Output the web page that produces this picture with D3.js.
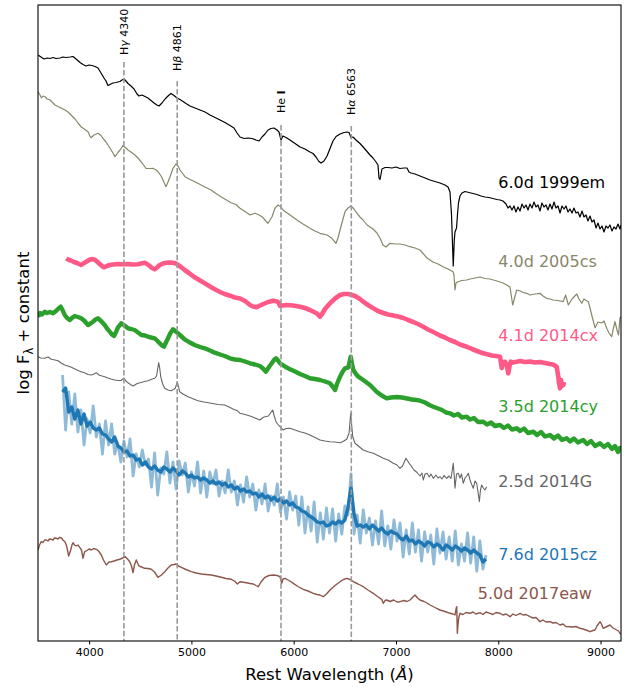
<!DOCTYPE html>
<html><head><meta charset="utf-8">
<script src="https://cdn.jsdelivr.net/npm/d3@7"></script>
<style>body{margin:0;background:#fff} svg{display:block} text{font-family:"DejaVu Sans",sans-serif}</style>
</head><body><svg id="c" width="627" height="687"></svg>
<script>
// ---------------- data (wavelength in Å, log F + constant) ----------------
const sn1999em = [[3500,5.86],[3529,5.84],[3559,5.82],[3588,5.83],[3617,5.825],[3647,5.835],[3676,5.825],[3715,5.83],[3744,5.84],[3774,5.835],[3813,5.84],[3842,5.845],[3872,5.82],[3911,5.785],[3940,5.765],[3969,5.75],[3999,5.76],[4028,5.755],[4057,5.745],[4087,5.73],[4116,5.68],[4145,5.63],[4165,5.60],[4184,5.555],[4204,5.565],[4233,5.58],[4263,5.585],[4302,5.595],[4321,5.61],[4341,5.62],[4360,5.60],[4380,5.575],[4409,5.55],[4439,5.52],[4468,5.47],[4487,5.45],[4517,5.46],[4546,5.445],[4575,5.43],[4605,5.405],[4634,5.38],[4663,5.36],[4683,5.35],[4712,5.38],[4742,5.42],[4771,5.45],[4800,5.475],[4830,5.455],[4859,5.43],[4888,5.415],[4918,5.395],[4947,5.375],[4986,5.35],[5035,5.33],[5084,5.31],[5133,5.29],[5182,5.26],[5231,5.235],[5280,5.21],[5328,5.185],[5377,5.155],[5416,5.13],[5446,5.08],[5475,5.04],[5514,5.025],[5553,5.03],[5592,5.025],[5631,5.01],[5661,5.00],[5690,5.04],[5719,5.07],[5749,5.11],[5778,5.125],[5807,5.13],[5837,5.11],[5856,5.09],[5876,5.01],[5895,5.05],[5925,5.035],[5964,5.01],[6013,4.975],[6062,4.94],[6110,4.92],[6159,4.89],[6189,4.875],[6218,4.84],[6247,4.795],[6267,4.78],[6296,4.80],[6326,4.85],[6355,4.925],[6384,5.00],[6414,5.045],[6453,5.07],[6492,5.085],[6521,5.09],[6541,5.085],[6560,5.035],[6580,5.04],[6609,5.01],[6648,4.975],[6688,4.93],[6717,4.895],[6746,4.86],[6775,4.83],[6805,4.79],[6824,4.76],[6834,4.63],[6844,4.615],[6863,4.72],[6893,4.735],[6922,4.735],[6961,4.73],[7000,4.74],[7039,4.725],[7078,4.73],[7108,4.73],[7127,4.69],[7147,4.68],[7186,4.67],[7235,4.65],[7284,4.63],[7333,4.61],[7381,4.595],[7430,4.58],[7479,4.56],[7509,4.54],[7528,4.49],[7543,4.26],[7553,3.96],[7560,3.75],[7570,4.01],[7577,4.09],[7592,4.13],[7601,4.26],[7611,4.38],[7626,4.45],[7645,4.48],[7675,4.495],[7714,4.485],[7753,4.475],[7792,4.465],[7831,4.45],[7870,4.44],[7909,4.435],[7948,4.425],[7987,4.415],[8017,4.41],[8046,4.40],[8076,4.37],[8095,4.33],[8115,4.35],[8134,4.31],[8154,4.35],[8173,4.29],[8193,4.34],[8213,4.30],[8232,4.37],[8252,4.33],[8271,4.36],[8291,4.31],[8310,4.37],[8330,4.33],[8349,4.39],[8369,4.34],[8388,4.36],[8408,4.30],[8427,4.38],[8447,4.34],[8467,4.36],[8486,4.31],[8506,4.37],[8525,4.32],[8545,4.39],[8564,4.33],[8584,4.35],[8604,4.28],[8623,4.35],[8643,4.32],[8662,4.35],[8682,4.29],[8701,4.32],[8721,4.28],[8740,4.33],[8760,4.28],[8779,4.29],[8799,4.24],[8819,4.30],[8838,4.24],[8858,4.26],[8877,4.20],[8897,4.25],[8916,4.19],[8936,4.21],[8956,4.13],[8975,4.18],[8995,4.12],[9014,4.15],[9034,4.09],[9053,4.15],[9073,4.13],[9092,4.16],[9112,4.10],[9131,4.14],[9151,4.12],[9171,4.17],[9190,4.12],[9200,4.16]];

const sn2005cs = [[3500,5.493],[3520,5.46],[3534,5.43],[3549,5.45],[3568,5.443],[3588,5.42],[3617,5.41],[3647,5.38],[3666,5.36],[3715,5.335],[3764,5.31],[3793,5.29],[3823,5.26],[3862,5.22],[3891,5.18],[3920,5.143],[3960,5.115],[3989,5.093],[4008,5.05],[4018,5.033],[4048,5.06],[4087,5.077],[4116,5.055],[4136,5.027],[4165,4.99],[4204,4.927],[4233,4.88],[4253,4.843],[4282,4.885],[4302,4.91],[4331,4.953],[4360,4.93],[4380,4.91],[4409,4.89],[4448,4.86],[4478,4.83],[4507,4.793],[4536,4.755],[4556,4.727],[4595,4.725],[4624,4.727],[4654,4.71],[4673,4.693],[4703,4.65],[4722,4.61],[4751,4.543],[4771,4.59],[4791,4.643],[4820,4.727],[4849,4.77],[4869,4.75],[4888,4.71],[4918,4.67],[4937,4.643],[4986,4.615],[5035,4.593],[5094,4.56],[5143,4.535],[5191,4.51],[5240,4.475],[5289,4.443],[5338,4.413],[5387,4.383],[5436,4.365],[5475,4.327],[5524,4.295],[5573,4.26],[5622,4.277],[5651,4.265],[5690,4.243],[5719,4.21],[5749,4.177],[5768,4.21],[5788,4.243],[5817,4.327],[5846,4.36],[5876,4.34],[5895,4.31],[5964,4.26],[6032,4.21],[6091,4.17],[6159,4.127],[6208,4.10],[6257,4.077],[6326,4.06],[6374,4.027],[6394,4.00],[6414,3.977],[6433,4.03],[6453,4.11],[6482,4.22],[6502,4.293],[6531,4.33],[6560,4.35],[6590,4.32],[6619,4.277],[6648,4.24],[6678,4.21],[6717,4.16],[6746,4.14],[6775,4.12],[6814,4.08],[6844,4.027],[6873,3.96],[6902,3.94],[6942,3.977],[6990,3.97],[7039,3.97],[7088,3.96],[7137,3.943],[7186,3.93],[7235,3.91],[7303,3.83],[7362,3.79],[7411,3.77],[7460,3.743],[7509,3.72],[7558,3.693],[7567,3.66],[7577,3.51],[7587,3.58],[7606,3.593],[7645,3.605],[7691,3.61],[7724,3.62],[7773,3.63],[7821,3.64],[7870,3.625],[7919,3.62],[7952,3.61],[7988,3.60],[8017,3.59],[8046,3.58],[8082,3.56],[8115,3.54],[8141,3.36],[8154,3.41],[8180,3.51],[8213,3.50],[8242,3.485],[8278,3.477],[8310,3.46],[8359,3.47],[8408,3.477],[8437,3.45],[8474,3.427],[8506,3.42],[8535,3.41],[8584,3.405],[8633,3.393],[8659,3.46],[8685,3.36],[8721,3.42],[8767,3.47],[8789,3.42],[8816,3.377],[8838,3.42],[8880,3.393],[8897,3.33],[8916,3.25],[8946,3.133],[8975,3.19],[9011,3.18],[9034,3.20],[9060,3.127],[9083,3.08],[9109,3.043],[9122,3.11],[9141,3.193],[9161,3.11],[9176,3.06],[9190,3.23],[9200,3.243]];

const sn2014cx = [[3777,3.827],[3793,3.815],[3826,3.803],[3852,3.79],[3874,3.783],[3901,3.77],[3923,3.76],[3950,3.78],[3972,3.793],[3999,3.81],[4021,3.817],[4038,3.82],[4060,3.81],[4082,3.79],[4103,3.77],[4126,3.75],[4145,3.737],[4175,3.75],[4201,3.76],[4233,3.765],[4282,3.77],[4331,3.767],[4380,3.77],[4429,3.765],[4478,3.767],[4507,3.775],[4543,3.783],[4566,3.77],[4592,3.75],[4615,3.73],[4641,3.717],[4663,3.735],[4690,3.76],[4722,3.775],[4754,3.783],[4791,3.785],[4820,3.783],[4849,3.775],[4869,3.76],[4898,3.74],[4934,3.71],[4976,3.68],[5032,3.637],[5084,3.605],[5130,3.577],[5182,3.545],[5228,3.517],[5280,3.49],[5325,3.47],[5377,3.453],[5426,3.435],[5475,3.425],[5524,3.40],[5573,3.36],[5602,3.345],[5638,3.337],[5670,3.355],[5703,3.37],[5749,3.39],[5801,3.403],[5837,3.395],[5853,3.383],[5866,3.35],[5886,3.355],[5932,3.36],[5993,3.355],[6062,3.343],[6110,3.33],[6159,3.31],[6198,3.29],[6225,3.277],[6242,3.26],[6257,3.243],[6277,3.27],[6306,3.32],[6355,3.377],[6404,3.425],[6453,3.46],[6492,3.47],[6534,3.47],[6570,3.46],[6599,3.45],[6648,3.42],[6680,3.393],[6726,3.36],[6778,3.327],[6824,3.30],[6876,3.28],[6922,3.265],[6974,3.255],[7020,3.245],[7072,3.23],[7118,3.21],[7169,3.19],[7215,3.17],[7267,3.143],[7313,3.115],[7365,3.09],[7430,3.055],[7479,3.035],[7528,3.01],[7577,2.99],[7626,2.965],[7691,2.943],[7743,2.92],[7792,2.90],[7854,2.877],[7900,2.865],[7939,2.855],[7978,2.85],[8017,2.843],[8034,2.73],[8046,2.79],[8066,2.793],[8085,2.75],[8098,2.677],[8110,2.75],[8122,2.793],[8144,2.785],[8180,2.793],[8213,2.80],[8261,2.79],[8310,2.795],[8359,2.785],[8408,2.79],[8457,2.78],[8506,2.77],[8535,2.765],[8571,2.743],[8587,2.643],[8594,2.58],[8604,2.527],[8613,2.61],[8623,2.55],[8636,2.56],[8643,2.59]];

const sn2014cy = [[3500,3.243],[3520,3.28],[3539,3.265],[3566,3.293],[3588,3.28],[3617,3.29],[3647,3.277],[3676,3.30],[3700,3.325],[3722,3.343],[3740,3.31],[3761,3.26],[3784,3.23],[3810,3.21],[3832,3.23],[3859,3.25],[3891,3.24],[3923,3.227],[3955,3.20],[3989,3.16],[4013,3.175],[4038,3.193],[4062,3.215],[4087,3.227],[4116,3.20],[4152,3.16],[4175,3.125],[4201,3.093],[4223,3.065],[4243,3.05],[4263,3.09],[4282,3.137],[4314,3.177],[4346,3.155],[4380,3.127],[4409,3.12],[4445,3.11],[4478,3.085],[4510,3.06],[4546,3.055],[4575,3.043],[4605,3.035],[4641,3.027],[4663,3.005],[4690,2.977],[4712,2.955],[4732,2.943],[4751,2.985],[4771,3.027],[4795,3.08],[4820,3.117],[4844,3.10],[4869,3.077],[4898,3.05],[4934,3.017],[4976,2.99],[5032,2.96],[5084,2.94],[5130,2.927],[5182,2.905],[5228,2.883],[5280,2.865],[5325,2.85],[5377,2.827],[5426,2.815],[5475,2.81],[5524,2.795],[5573,2.777],[5622,2.765],[5670,2.75],[5700,2.725],[5729,2.693],[5758,2.74],[5785,2.777],[5807,2.81],[5827,2.827],[5846,2.805],[5866,2.777],[5915,2.745],[5964,2.717],[6013,2.695],[6062,2.67],[6110,2.65],[6159,2.627],[6208,2.62],[6257,2.61],[6306,2.595],[6355,2.577],[6384,2.54],[6404,2.51],[6423,2.57],[6453,2.643],[6482,2.70],[6502,2.727],[6534,2.737],[6546,2.79],[6557,2.843],[6570,2.77],[6583,2.71],[6609,2.67],[6632,2.643],[6680,2.61],[6746,2.56],[6811,2.493],[6853,2.46],[6909,2.427],[6951,2.435],[7007,2.44],[7059,2.435],[7108,2.425],[7157,2.415],[7203,2.41],[7235,2.403],[7284,2.385],[7326,2.36],[7365,2.343],[7411,2.325],[7450,2.31],[7489,2.285],[7528,2.277],[7567,2.255],[7606,2.27],[7645,2.235],[7691,2.243],[7724,2.215],[7763,2.23],[7802,2.19],[7854,2.193],[7890,2.165],[7929,2.185],[7968,2.15],[8017,2.16],[8056,2.13],[8095,2.155],[8134,2.115],[8180,2.127],[8213,2.10],[8252,2.125],[8291,2.08],[8343,2.093],[8379,2.06],[8418,2.09],[8457,2.045],[8506,2.06],[8545,2.025],[8584,2.055],[8623,2.01],[8669,2.027],[8701,1.995],[8740,2.025],[8779,1.985],[8831,2.01],[8868,1.97],[8907,2.00],[8946,1.95],[8995,1.977],[9034,1.94],[9073,1.97],[9112,1.92],[9141,1.95],[9171,1.89],[9190,1.93],[9200,1.91]];

const sn2014G = [[3500,2.843],[3529,2.83],[3566,2.827],[3598,2.84],[3630,2.817],[3666,2.81],[3696,2.803],[3725,2.78],[3761,2.76],[3793,2.75],[3826,2.737],[3862,2.72],[3891,2.705],[3923,2.693],[3960,2.68],[3989,2.665],[4021,2.66],[4048,2.67],[4070,2.683],[4096,2.66],[4126,2.65],[4152,2.643],[4184,2.63],[4214,2.62],[4250,2.61],[4282,2.605],[4311,2.605],[4331,2.62],[4341,2.63],[4360,2.60],[4380,2.583],[4404,2.565],[4429,2.55],[4453,2.565],[4478,2.577],[4507,2.585],[4541,2.595],[4575,2.603],[4605,2.615],[4641,2.627],[4659,2.65],[4666,2.693],[4680,2.783],[4690,2.73],[4700,2.643],[4717,2.575],[4739,2.527],[4771,2.51],[4803,2.503],[4825,2.515],[4842,2.527],[4862,2.593],[4874,2.54],[4885,2.493],[4918,2.47],[4967,2.443],[5015,2.423],[5064,2.403],[5123,2.39],[5194,2.377],[5260,2.365],[5325,2.36],[5367,2.34],[5407,2.32],[5449,2.303],[5475,2.277],[5524,2.265],[5573,2.25],[5622,2.23],[5670,2.21],[5703,2.237],[5752,2.25],[5773,2.28],[5795,2.31],[5807,2.26],[5827,2.193],[5846,2.165],[5866,2.143],[5898,2.11],[5925,2.125],[5964,2.127],[6013,2.11],[6062,2.093],[6110,2.08],[6159,2.06],[6208,2.035],[6257,2.01],[6306,2.00],[6355,1.993],[6404,1.99],[6453,1.983],[6482,1.995],[6518,2.017],[6541,2.077],[6557,2.277],[6567,2.16],[6577,2.043],[6599,1.977],[6638,1.945],[6680,1.91],[6726,1.893],[6778,1.877],[6824,1.855],[6876,1.827],[6922,1.81],[6974,1.777],[7010,1.76],[7039,1.727],[7064,1.75],[7098,1.827],[7127,1.78],[7154,1.743],[7176,1.71],[7206,1.685],[7235,1.65],[7254,1.68],[7267,1.61],[7284,1.67],[7303,1.677],[7326,1.64],[7342,1.67],[7365,1.627],[7391,1.66],[7411,1.63],[7430,1.643],[7450,1.62],[7469,1.655],[7496,1.627],[7518,1.65],[7538,1.625],[7560,1.777],[7569,1.66],[7577,1.527],[7592,1.67],[7609,1.677],[7626,1.63],[7641,1.67],[7658,1.577],[7675,1.63],[7691,1.65],[7707,1.677],[7724,1.61],[7738,1.57],[7756,1.527],[7773,1.60],[7789,1.577],[7802,1.49],[7815,1.393],[7826,1.51],[7838,1.56],[7854,1.53],[7870,1.51],[7887,1.543]];

const sn2015cz_wave = [3740,3770,3800,3830,3860,3890,3920,3950,3980,4010,4040,4070,4100,4130,4160,4190,4220,4250,4280,4310,4340,4370,4400,4430,4460,4490,4520,4550,4580,4610,4640,4670,4700,4730,4760,4790,4820,4850,4880,4910,4940,4970,5000,5030,5060,5090,5120,5150,5180,5210,5240,5270,5300,5330,5360,5390,5420,5450,5480,5510,5540,5570,5600,5630,5660,5690,5720,5750,5780,5810,5840,5870,5900,5930,5960,5990,6020,6050,6080,6110,6140,6170,6200,6230,6260,6290,6320,6350,6380,6410,6440,6470,6500,6530,6560,6590,6620,6650,6680,6710,6740,6770,6800,6830,6860,6890,6920,6950,6980,7010,7040,7070,7100,7130,7160,7190,7220,7250,7280,7310,7340,7370,7400,7430,7460,7490,7520,7550,7580,7610,7640,7670,7700,7730,7760,7790,7820,7850,7880];
const sn2015cz_smooth = [2.49,2.53,2.29,2.34,2.22,2.31,2.17,2.27,2.15,2.19,2.13,2.11,2.13,2.07,2.06,2.02,1.99,2.04,1.95,1.93,1.89,1.90,1.85,1.86,1.81,1.82,1.76,1.79,1.74,1.72,1.75,1.71,1.69,1.74,1.72,1.69,1.73,1.70,1.66,1.70,1.68,1.64,1.66,1.63,1.64,1.61,1.63,1.61,1.58,1.60,1.57,1.59,1.56,1.58,1.54,1.56,1.52,1.54,1.50,1.52,1.49,1.50,1.47,1.48,1.44,1.47,1.43,1.45,1.41,1.44,1.40,1.42,1.38,1.40,1.36,1.38,1.34,1.33,1.30,1.29,1.26,1.24,1.22,1.19,1.18,1.19,1.15,1.16,1.19,1.17,1.20,1.18,1.21,1.33,1.53,1.27,1.15,1.16,1.14,1.16,1.12,1.16,1.13,1.10,1.13,1.09,1.07,1.10,1.08,1.07,1.03,1.01,1.05,1.00,1.01,0.97,1.00,0.98,0.95,0.99,0.98,0.94,0.97,0.95,0.91,0.96,0.94,0.91,0.95,0.93,0.90,0.93,0.91,0.88,0.91,0.88,0.86,0.79,0.82];
const sn2015cz_raw = [2.66,2.11,2.49,2.17,2.47,2.09,2.31,1.96,2.22,2.08,2.35,2.04,2.17,1.87,2.20,1.96,2.17,1.87,1.98,1.79,2.00,1.84,2.02,1.65,1.87,1.74,1.91,1.76,1.82,1.54,1.88,1.46,1.73,1.67,1.89,1.58,1.79,1.52,1.80,1.66,1.78,1.49,1.69,1.55,1.79,1.48,1.70,1.44,1.69,1.57,1.71,1.45,1.60,1.48,1.71,1.49,1.60,1.36,1.56,1.39,1.64,1.44,1.57,1.31,1.51,1.37,1.57,1.30,1.45,1.36,1.57,1.29,1.44,1.22,1.49,1.31,1.45,1.16,1.44,1.08,1.34,1.10,1.39,0.99,1.28,1.02,1.33,1.08,1.32,1.00,1.27,1.07,1.35,1.26,1.67,1.07,1.26,0.98,1.31,1.08,1.23,0.96,1.20,0.97,1.30,0.95,1.15,0.92,1.21,1.00,1.18,0.84,1.11,0.87,1.18,0.89,1.11,0.80,1.09,0.89,1.06,0.77,1.12,0.88,1.09,0.82,1.04,0.80,1.10,0.76,0.97,0.80,1.08,0.78,1.04,0.70,1.00,0.72,0.86];

const sn2017eaw = [[3500,0.91],[3515,0.96],[3532,0.993],[3549,0.985],[3564,1.01],[3581,1.01],[3598,1.00],[3612,1.02],[3630,1.017],[3647,1.01],[3661,1.03],[3679,1.027],[3696,1.02],[3712,1.037],[3730,1.03],[3744,1.01],[3764,0.99],[3777,0.96],[3788,0.91],[3800,0.85],[3813,0.89],[3820,0.91],[3832,0.96],[3842,0.983],[3857,0.96],[3874,0.95],[3891,0.96],[3908,0.937],[3925,0.91],[3940,0.827],[3950,0.87],[3957,0.893],[3979,0.905],[3999,0.92],[4021,0.91],[4043,0.925],[4070,0.917],[4092,0.90],[4119,0.86],[4140,0.81],[4168,0.76],[4194,0.79],[4217,0.793],[4243,0.80],[4272,0.81],[4299,0.817],[4326,0.83],[4354,0.843],[4375,0.82],[4397,0.793],[4414,0.75],[4429,0.683],[4443,0.76],[4461,0.81],[4473,0.78],[4487,0.75],[4512,0.74],[4543,0.727],[4575,0.725],[4608,0.717],[4639,0.69],[4673,0.637],[4707,0.66],[4739,0.693],[4771,0.73],[4803,0.76],[4830,0.765],[4852,0.77],[4874,0.75],[4901,0.737],[4947,0.715],[4999,0.693],[5045,0.68],[5097,0.67],[5143,0.665],[5194,0.66],[5240,0.65],[5292,0.637],[5338,0.625],[5390,0.617],[5421,0.60],[5449,0.57],[5475,0.593],[5524,0.585],[5573,0.575],[5605,0.57],[5631,0.555],[5654,0.543],[5680,0.59],[5719,0.637],[5758,0.655],[5801,0.66],[5837,0.655],[5866,0.643],[5883,0.577],[5895,0.62],[5915,0.627],[5954,0.605],[5996,0.577],[6042,0.545],[6094,0.517],[6140,0.50],[6192,0.477],[6228,0.465],[6257,0.46],[6289,0.443],[6321,0.47],[6355,0.51],[6404,0.555],[6453,0.593],[6487,0.615],[6518,0.627],[6550,0.615],[6583,0.593],[6629,0.57],[6680,0.543],[6726,0.51],[6778,0.477],[6819,0.445],[6860,0.417],[6876,0.377],[6893,0.405],[6909,0.41],[6942,0.395],[6976,0.41],[7010,0.39],[7039,0.393],[7078,0.405],[7108,0.395],[7137,0.41],[7161,0.435],[7186,0.46],[7210,0.43],[7235,0.41],[7274,0.395],[7303,0.38],[7333,0.36],[7381,0.335],[7430,0.31],[7479,0.295],[7528,0.277],[7558,0.27],[7577,0.26],[7589,0.33],[7594,0.343],[7600,0.077],[7606,0.16],[7613,0.23],[7626,0.277],[7655,0.265],[7685,0.285],[7724,0.277],[7753,0.29],[7782,0.27],[7821,0.283],[7851,0.265],[7880,0.29],[7919,0.277],[7948,0.265],[7978,0.285],[8017,0.277],[8046,0.26],[8076,0.27],[8115,0.243],[8144,0.27],[8173,0.255],[8213,0.277],[8242,0.26],[8271,0.265],[8310,0.243],[8340,0.23],[8369,0.235],[8408,0.193],[8437,0.21],[8467,0.19],[8506,0.193],[8535,0.18],[8564,0.185],[8604,0.16],[8633,0.17],[8662,0.145],[8701,0.143],[8731,0.14],[8760,0.145],[8799,0.127],[8828,0.12],[8858,0.11],[8897,0.093],[8926,0.105],[8946,0.11],[8965,0.15],[8995,0.193],[9009,0.17],[9026,0.127],[9053,0.14],[9092,0.16],[9122,0.13],[9158,0.11],[9176,0.10],[9190,0.077],[9200,0.07]];

const seriesNames = ["6.0d 1999em","4.0d 2005cs","4.1d 2014cx","3.5d 2014cy","2.5d 2014G","7.6d 2015cz","5.0d 2017eaw"];
const labelWave = [8000, 8000, 8000, 8000, 8000, 8000, 7800];
const labelFlux = [4.53, 3.743, 3.00, 2.293, 1.543, 0.81, 0.417];

const lineNames = ["Hγ 4340","Hβ 4861","He I","Hα 6563"];
const lineWaves = [4340, 4861, 5876, 6563];
const lineTop = [5.79, 5.60, 5.16, 5.15];
const lineLabelFlux = [5.86, 5.70, 5.28, 5.26];

const xTicks = [4000, 5000, 6000, 7000, 8000, 9000];

// ---------------- drawing ----------------
const W = 627, H = 687;
const m = {l: 38, t: 5, r: 6, b: 46};
const iw = W - m.l - m.r, ih = H - m.t - m.b;
const svg = d3.select("#c");
const g = svg.append("g").attr("transform", `translate(${m.l},${m.t})`);
const x = d3.scaleLinear().domain([3500, 9200]).range([0, iw]);
const y = d3.scaleLinear().domain([0, 6.36]).range([ih, 0]);

svg.append("defs").append("clipPath").attr("id", "clip")
  .append("rect").attr("width", iw).attr("height", ih);

const plot = g.append("g").attr("clip-path", "url(#clip)");
const line = d3.line().x(d => x(d[0])).y(d => y(d[1]));

const colors = ["#000000", "#87876a", "#ff5a87", "#2ca02c", "#666666", "#1f77b4", "#8c564b"];
const blueRaw = sn2015cz_wave.map((w, i) => [w, sn2015cz_raw[i]]);
const blueSmooth = sn2015cz_wave.map((w, i) => [w, sn2015cz_smooth[i]]);

const specs = [
  {d: sn1999em, c: colors[0], w: 1.2},
  {d: sn2005cs, c: colors[1], w: 1.2},
  {d: sn2014cx, c: colors[2], w: 4.6},
  {d: sn2014cy, c: colors[3], w: 4.4},
  {d: sn2014G, c: colors[4], w: 1.1},
  {d: blueRaw, c: colors[5], w: 2.8, o: 0.5},
  {d: blueSmooth, c: colors[5], w: 3.4},
  {d: sn2017eaw, c: colors[6], w: 1.4}
];
specs.forEach(s => {
  plot.append("path").datum(s.d).attr("d", line)
    .attr("fill", "none").attr("stroke", s.c).attr("stroke-width", s.w)
    .attr("stroke-opacity", s.o || 1).attr("stroke-linejoin", "round");
});

// vertical lines
lineWaves.forEach((w, i) => {
  plot.append("line").attr("x1", x(w)).attr("x2", x(w))
    .attr("y1", y(lineTop[i])).attr("y2", ih)
    .attr("stroke", "#999999").attr("stroke-width", 1.6).attr("stroke-dasharray", "5.5,2.4");
  const t = g.append("text")
    .attr("transform", `translate(${x(w)},${y(lineLabelFlux[i])}) rotate(-90)`)
    .attr("dy", "0.36em").attr("font-size", 11).attr("fill", "#000");
  const name = lineNames[i];
  if (name === "He I") {
    t.append("tspan").text("He ");
    t.append("tspan").attr("font-weight", "bold").text("I");
  } else {
    t.append("tspan").text("H");
    t.append("tspan").attr("font-style", "italic").text(name.charAt(1));
    t.append("tspan").text(name.slice(2));
  }
});

// series labels
seriesNames.forEach((n, i) => {
  g.append("text").attr("x", x(labelWave[i])).attr("y", y(labelFlux[i]))
    .attr("font-size", 16).attr("fill", colors[i]).text(n);
});

// frame
g.append("rect").attr("width", iw).attr("height", ih)
  .attr("fill", "none").attr("stroke", "#000").attr("stroke-width", 1.1);

// x axis
const ax = g.append("g").attr("transform", `translate(0,${ih})`)
  .call(d3.axisBottom(x).tickValues(xTicks).tickFormat(d3.format("d")).tickSize(3.5).tickPadding(3.5));
ax.select(".domain").remove();
ax.selectAll("text").attr("font-size", 11).attr("font-family", "DejaVu Sans").attr("fill", "#000");
ax.selectAll("line").attr("stroke", "#000");

// axis labels
const xl = svg.append("text").attr("x", m.l + iw / 2).attr("y", 680)
  .attr("text-anchor", "middle").attr("font-size", 16.5);
xl.append("tspan").text("Rest Wavelength (");
xl.append("tspan").attr("font-style", "italic").text("Å");
xl.append("tspan").text(")");

const yl = svg.append("text").attr("transform", `translate(29,${m.t + ih / 2}) rotate(-90)`)
  .attr("text-anchor", "middle").attr("font-size", 16.5);
yl.append("tspan").text("log F");
yl.append("tspan").attr("font-size", 11.5).attr("dy", 4).text("λ");
yl.append("tspan").attr("dy", -4).text(" + constant");
</script>
</body></html>
